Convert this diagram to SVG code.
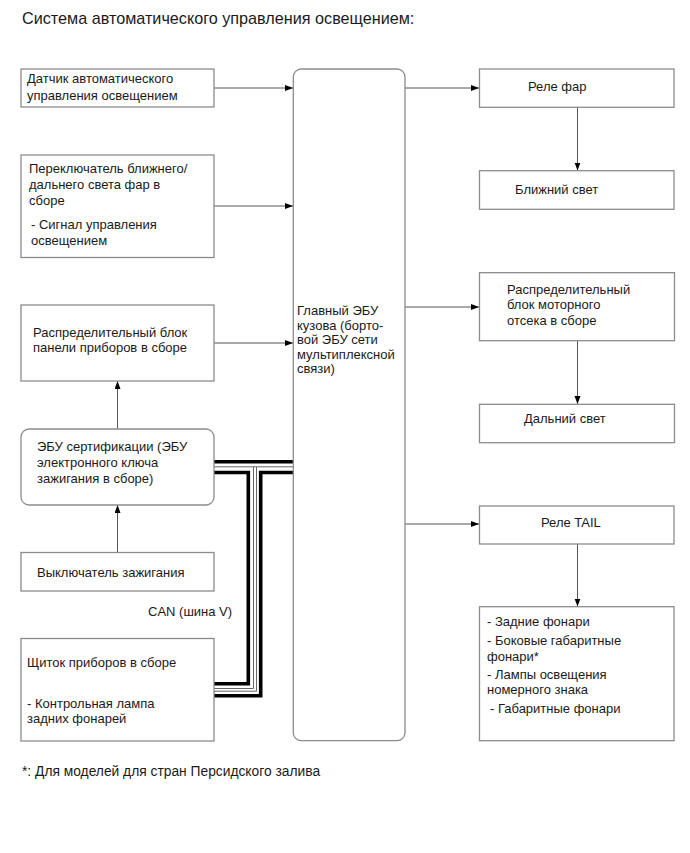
<svg xmlns="http://www.w3.org/2000/svg" width="690" height="853" viewBox="0 0 690 853">
<defs>
<style>
.box{fill:#fff;stroke:#8c8c8c;stroke-width:1.3}
.t{font-family:"Liberation Sans",Arial,sans-serif;font-size:13px;fill:#1a1a1a}
.title{font-family:"Liberation Sans",Arial,sans-serif;font-size:16.2px;fill:#1a1a1a}
.c{fill:none;stroke:#555;stroke-width:1}
.thick{fill:none;stroke:#000;stroke-width:3.6}
.thin{fill:none;stroke:#666;stroke-width:1}
</style>
<marker id="ah" markerUnits="userSpaceOnUse" markerWidth="9" markerHeight="7" refX="8" refY="3" orient="auto">
<path d="M0,0 L8,3 L0,6 z" fill="#000"/>
</marker>
</defs>
<rect width="690" height="853" fill="#fff"/>
<text class="title" x="22" y="24">Система автоматического управления освещением:</text>

<g id="connectors">
<line class="c" x1="214" y1="88" x2="293" y2="88" marker-end="url(#ah)"/>
<line class="c" x1="214" y1="206" x2="293" y2="206" marker-end="url(#ah)"/>
<line class="c" x1="214" y1="343" x2="293" y2="343" marker-end="url(#ah)"/>
<line class="c" x1="405" y1="88" x2="479" y2="88" marker-end="url(#ah)"/>
<line class="c" x1="405" y1="307" x2="479" y2="307" marker-end="url(#ah)"/>
<line class="c" x1="405" y1="524" x2="479" y2="524" marker-end="url(#ah)"/>
<line class="c" x1="577.5" y1="107" x2="577.5" y2="170.5" marker-end="url(#ah)"/>
<line class="c" x1="577.5" y1="341" x2="577.5" y2="404" marker-end="url(#ah)"/>
<line class="c" x1="577.5" y1="544" x2="577.5" y2="606.5" marker-end="url(#ah)"/>
<line class="c" x1="117.5" y1="429" x2="117.5" y2="381" marker-end="url(#ah)"/>
<line class="c" x1="117.5" y1="552" x2="117.5" y2="505" marker-end="url(#ah)"/>
<g id="can-bus">
<path class="thick" d="M214,461.7 H293"/>
<path class="thick" d="M214,472.5 H248.3 V683.7 H214"/>
<path class="thick" d="M293,472.5 H260.7 V695.7 H214"/>
<path class="thin" d="M214,466.8 H293"/>
<path class="thin" d="M253.5,466.8 V688.5 H214"/>
<path class="thin" d="M256.5,466.8 V691.2 H214"/>
</g>
<text class="t" x="148" y="616">CAN (шина V)</text>
</g>

<g id="sensor">
<rect class="box" x="21" y="69" width="193" height="38"/>
<text class="t" x="27" y="83">Датчик автоматического</text>
<text class="t" x="27" y="100">управления освещением</text>
</g>
<g id="switch">
<rect class="box" x="21" y="155" width="193" height="102.5"/>
<text class="t" x="29" y="173">Переключатель ближнего/</text>
<text class="t" x="29" y="189">дальнего света фар в</text>
<text class="t" x="29" y="205">сборе</text>
<text class="t" x="31" y="229">- Сигнал управления</text>
<text class="t" x="31" y="245">освещением</text>
</g>
<g id="ip-jb">
<rect class="box" x="21" y="305" width="193" height="76"/>
<text class="t" x="33" y="337">Распределительный блок</text>
<text class="t" x="33" y="352">панели приборов в сборе</text>
</g>
<g id="cert-ecu">
<rect class="box" x="21" y="429" width="193" height="76" rx="8"/>
<text class="t" x="37" y="451">ЭБУ сертификации (ЭБУ</text>
<text class="t" x="37" y="467">электронного ключа</text>
<text class="t" x="37" y="483">зажигания в сборе)</text>
</g>
<g id="ign-switch">
<rect class="box" x="21" y="552.5" width="193" height="38.5"/>
<text class="t" x="37" y="577">Выключатель зажигания</text>
</g>
<g id="meter">
<rect class="box" x="21" y="638.5" width="193" height="102.5"/>
<text class="t" x="27" y="667">Щиток приборов в сборе</text>
<text class="t" x="27" y="708">- Контрольная лампа</text>
<text class="t" x="27" y="723">задних фонарей</text>
</g>
<g id="main-ecu">
<rect class="box" x="293.3" y="69" width="111.7" height="671.7" rx="8"/>
<text class="t" x="297" y="315">Главный ЭБУ</text>
<text class="t" x="297" y="330">кузова (борто-</text>
<text class="t" x="297" y="344">вой ЭБУ сети</text>
<text class="t" x="297" y="359">мультиплексной</text>
<text class="t" x="297" y="373">связи)</text>
</g>
<g id="head-relay">
<rect class="box" x="479.5" y="69" width="194.5" height="38.3"/>
<text class="t" x="528" y="91">Реле фар</text>
</g>
<g id="low-beam">
<rect class="box" x="479.5" y="170.7" width="194.5" height="38.6"/>
<text class="t" x="515" y="194">Ближний свет</text>
</g>
<g id="engine-jb">
<rect class="box" x="479.5" y="272.7" width="195" height="68"/>
<text class="t" x="507" y="294">Распределительный</text>
<text class="t" x="507" y="309">блок моторного</text>
<text class="t" x="507" y="325">отсека в сборе</text>
</g>
<g id="high-beam">
<rect class="box" x="479.5" y="404.3" width="195" height="38.4"/>
<text class="t" x="524" y="423">Дальний свет</text>
</g>
<g id="tail-relay">
<rect class="box" x="479.5" y="506" width="194.5" height="38"/>
<text class="t" x="541" y="527">Реле TAIL</text>
</g>
<g id="lamps">
<rect class="box" x="479.5" y="606.7" width="194.5" height="134"/>
<text class="t" x="487" y="626">- Задние фонари</text>
<text class="t" x="487" y="645">- Боковые габаритные</text>
<text class="t" x="487" y="661">фонари*</text>
<text class="t" x="487" y="679">- Лампы освещения</text>
<text class="t" x="487" y="694">номерного знака</text>
<text class="t" x="490" y="713">- Габаритные фонари</text>
</g>
<text class="t" x="22" y="776" style="font-size:13.8px">*: Для моделей для стран Персидского залива</text>
</svg>
